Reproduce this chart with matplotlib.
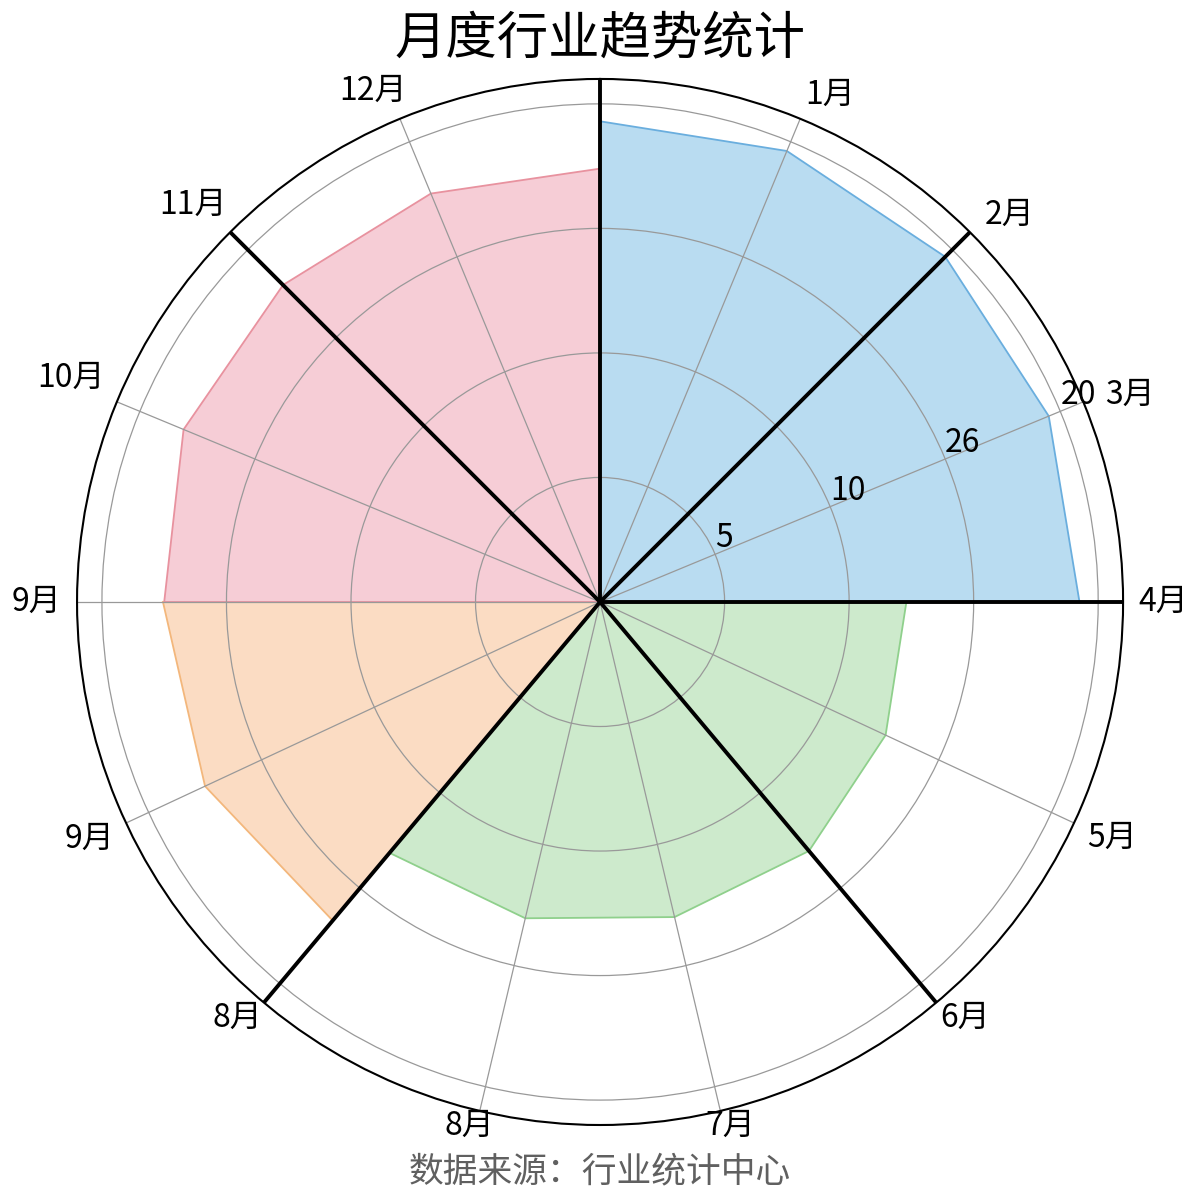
import numpy as np
import matplotlib
matplotlib.use('Agg')
import matplotlib.pyplot as plt

plt.rcParams['font.family'] = ['Noto Sans CJK SC', 'DejaVu Sans']

# Угловые позиции сетки (градусы, по часовой от севера)
grid_angles = [0, 22.5, 45, 67.5, 90, 115, 140, 166.7, 193.3, 220, 245, 270, 292.5, 315, 337.5]

# Подписи месяцев
month_labels = ['1月', '2月', '3月', '4月', '5月', '6月', '7月', '8月', '8月', '9月', '9月', '10月', '11月', '12月']
# Где стоят подписи (угол, радиус в единицах оси)
label_angles = [24.4, 46.6, 68.7, 90, 114.75, 138.7, 166.1, 194.0, 221.1, 245.1, 270, 293.0, 314.3, 336.0]
label_radii = [22.35, 22.61, 22.85, 22.61, 22.64, 22.22, 21.68, 21.68, 22.16, 22.61, 22.61, 23.08, 22.86, 22.46]

# Толстые разделительные линии
sector_edges = [0, 45, 90, 140, 220, 315]

# Радиальная сетка
r_ticks = [5, 10, 15, 20]
r_labels = ['5', '10', '26', '20']
r_max = 21

# Четыре сектора
blue_angles = [0, 22.5, 45, 67.5, 90]
blue_vals = [19.3, 19.6, 19.6, 19.5, 19.25]

green_angles = [90, 115, 140, 166.7, 193.3, 220]
green_vals = [12.3, 12.65, 13.05, 13.0, 13.05, 13.15]

orange_angles = [220, 245, 270]
orange_vals = [16.7, 17.5, 17.55]

pink_angles = [270, 292.5, 315, 337.5, 360]
pink_vals = [17.5, 18.1, 18.0, 17.75, 17.4]

series = [
    (blue_angles, blue_vals, '#b9dcf1', '#6aaede'),
    (green_angles, green_vals, '#cdeacc', '#8fd08c'),
    (orange_angles, orange_vals, '#fbdcc3', '#f3b77c'),
    (pink_angles, pink_vals, '#f6cdd6', '#e8929f'),
]

fig = plt.figure(figsize=(12, 12), dpi=100)
ax = fig.add_axes([0.0642, 0.0625, 0.8717, 0.8717], projection='polar')
ax.set_theta_zero_location('N')
ax.set_theta_direction(-1)

for angles, vals, face, edge in series:
    th = np.deg2rad(np.concatenate([[angles[0]], angles, [angles[-1]]]))
    rr = np.concatenate([[0], vals, [0]])
    ax.fill(th, rr, facecolor=face, edgecolor=edge, linewidth=1.3, zorder=1)

for a in sector_edges:
    ax.plot([np.deg2rad(a), np.deg2rad(a)], [0, r_max], color='black', linewidth=2.8,
            solid_capstyle='butt', zorder=5)

ax.set_ylim(0, r_max)
ax.set_thetagrids(grid_angles, labels=[''] * len(grid_angles))
ax.set_rgrids(r_ticks, labels=r_labels, angle=67.5, fontsize=23)
ax.grid(True, color='#999999', linewidth=0.9)
ax.spines['polar'].set_linewidth(1.5)
ax.spines['polar'].set_color('black')

for lab, a, r in zip(month_labels, label_angles, label_radii):
    ax.text(np.deg2rad(a), r, lab, ha='center', va='center', fontsize=23, clip_on=False)

fig.text(0.5, 0.967, '月度行业趋势统计', ha='center', va='center', fontsize=37, color='black')
fig.text(0.5, 0.023, '数据来源：行业统计中心', ha='center', va='center', fontsize=25, color='#606060')

fig.savefig('out.png', dpi=100, facecolor='white')
